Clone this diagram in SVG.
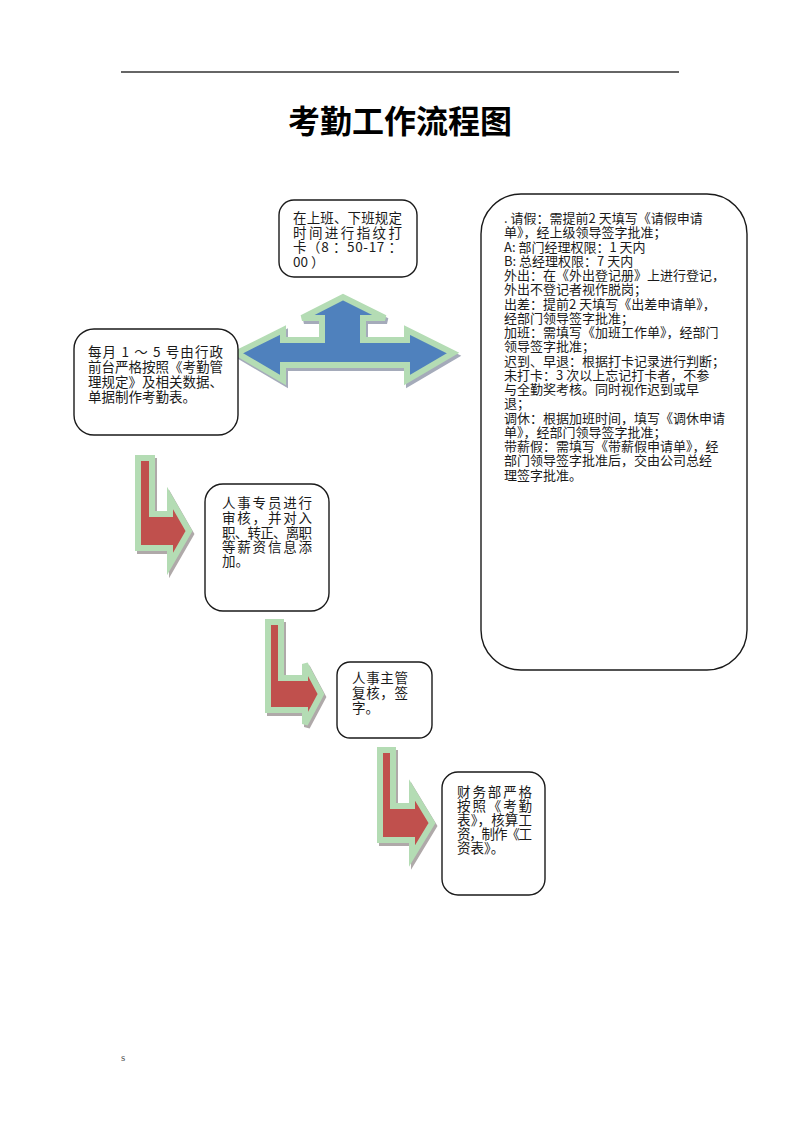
<svg xmlns="http://www.w3.org/2000/svg" width="800" height="1132" viewBox="0 0 800 1132">
<style>
  .box { fill: #ffffff; stroke: #1a1a1a; stroke-width: 1.4; }
  .t { font-family: "Noto Sans CJK SC", "Noto Sans", sans-serif; font-size: 13.5px; fill: #1a1a1a; }
  .tr { font-family: "Noto Sans CJK SC", "Noto Sans", sans-serif; font-size: 13px; fill: #1a1a1a; }
  .title { font-family: "Noto Sans CJK SC", sans-serif; font-size: 32px; font-weight: bold; fill: #000; }
  .shadow { fill: #9c9494; stroke: #9c9494; stroke-width: 6; stroke-linejoin: miter; opacity: 0.8; }
  .red { fill: #c0504d; stroke: #b4dcb4; stroke-width: 6; stroke-linejoin: miter; }
  .blue { fill: #4f81bd; stroke: #b4dcb4; stroke-width: 6; stroke-linejoin: miter; }
  .shadowb { fill: #8f97aa; stroke: #8f97aa; stroke-width: 6; stroke-linejoin: miter; opacity: 0.8; }
</style>
<rect width="800" height="1132" fill="#ffffff"/>
<line x1="121" y1="72" x2="679" y2="72" stroke="#333" stroke-width="1.5"/>
<text class="title" x="400" y="133" text-anchor="middle">考勤工作流程图</text>

<g id="connectors">
  <g id="arrow-blue">
    <polygon class="shadowb" transform="translate(2,3)" points="237,353 283,330 283,340 322,340 322,318 302,318 343,297 385,318 363,318 363,340 407,340 407,330 453,353 407,380 407,365 283,365 283,380"/>
    <polygon class="blue" points="237,353 283,330 283,340 322,340 322,318 302,318 343,297 385,318 363,318 363,340 407,340 407,330 453,353 407,380 407,365 283,365 283,380"/>
  </g>
  <g id="arrow-1">
    <polygon class="shadow" transform="translate(2,3)" points="138,458 152,458 152,514 170,514 170,498 189,531 170,564 170,548 138,548"/>
    <polygon class="red" points="138,458 152,458 152,514 170,514 170,498 189,531 170,564 170,548 138,548"/>
  </g>
  <g id="arrow-2">
    <polygon class="shadow" transform="translate(2,3)" points="268,622 281,622 281,678 305,678 305,664 321,694 305,724 305,710 268,710"/>
    <polygon class="red" points="268,622 281,622 281,678 305,678 305,664 321,694 305,724 305,710 268,710"/>
  </g>
  <g id="arrow-3">
    <polygon class="shadow" transform="translate(2,3)" points="380,750 393,750 393,806 412,806 412,790 432,823 412,856 412,840 380,840"/>
    <polygon class="red" points="380,750 393,750 393,806 412,806 412,790 432,823 412,856 412,840 380,840"/>
  </g>
</g>

<g id="node-clock">
  <rect class="box" x="279" y="200" width="138" height="77" rx="15"/>
  <text class="t" x="293" y="223" textLength="109" lengthAdjust="spacing">在上班、下班规定</text>
  <text class="t" x="293" y="237.5" textLength="109" lengthAdjust="spacing">时间进行指纹打</text>
  <text class="t" x="293" y="252" textLength="109" lengthAdjust="spacing">卡（8 ：50-17 ：</text>
  <text class="t" x="293" y="266.5">00 ）</text>
</g>

<g id="node-start">
  <rect class="box" x="74" y="329" width="164" height="106" rx="20"/>
  <text class="t" x="88" y="357" textLength="135" lengthAdjust="spacing">每月 1 ～ 5 号由行政</text>
  <text class="t" x="88" y="372" textLength="135" lengthAdjust="spacing">前台严格按照《考勤管</text>
  <text class="t" x="88" y="387" textLength="135" lengthAdjust="spacing">理规定》及相关数据、</text>
  <text class="t" x="88" y="402">单据制作考勤表。</text>
</g>

<g id="node-rules">
  <rect class="box" x="481" y="194" width="266" height="476" rx="40"/>
  <text class="tr" x="504" y="223">. 请假：需提前2 天填写《请假申请</text>
  <text class="tr" x="504" y="237.25">单》，经上级领导签字批准；</text>
  <text class="tr" x="504" y="251.5">A: 部门经理权限：1 天内</text>
  <text class="tr" x="504" y="265.75">B: 总经理权限：7 天内</text>
  <text class="tr" x="504" y="280">外出：在《外出登记册》上进行登记，</text>
  <text class="tr" x="504" y="294.25">外出不登记者视作脱岗；</text>
  <text class="tr" x="504" y="308.5">出差：提前2 天填写《出差申请单》，</text>
  <text class="tr" x="504" y="322.75">经部门领导签字批准；</text>
  <text class="tr" x="504" y="337">加班：需填写《加班工作单》，经部门</text>
  <text class="tr" x="504" y="351.25">领导签字批准；</text>
  <text class="tr" x="504" y="365.5">迟到、早退：根据打卡记录进行判断；</text>
  <text class="tr" x="504" y="379.75">未打卡：3 次以上忘记打卡者，不参</text>
  <text class="tr" x="504" y="394">与全勤奖考核。同时视作迟到或早</text>
  <text class="tr" x="504" y="408.25">退；</text>
  <text class="tr" x="504" y="422.5">调休：根据加班时间，填写《调休申请</text>
  <text class="tr" x="504" y="436.75">单》，经部门领导签字批准；</text>
  <text class="tr" x="504" y="451">带薪假：需填写《带薪假申请单》，经</text>
  <text class="tr" x="504" y="465.25">部门领导签字批准后，交由公司总经</text>
  <text class="tr" x="504" y="479.5">理签字批准。</text>
</g>

<g id="node-hr">
  <rect class="box" x="205" y="484" width="124" height="127" rx="18"/>
  <text class="t" x="222" y="508" textLength="90" lengthAdjust="spacing">人事专员进行</text>
  <text class="t" x="222" y="523" textLength="90" lengthAdjust="spacing">审核，并对入</text>
  <text class="t" x="222" y="538" textLength="90" lengthAdjust="spacing">职、转正、离职</text>
  <text class="t" x="222" y="552" textLength="90" lengthAdjust="spacing">等薪资信息添</text>
  <text class="t" x="222" y="566">加。</text>
</g>

<g id="node-manager">
  <rect class="box" x="337" y="662" width="95" height="76" rx="13"/>
  <text class="t" x="352" y="683" textLength="56" lengthAdjust="spacing">人事主管</text>
  <text class="t" x="352" y="698" textLength="56" lengthAdjust="spacing">复核，签</text>
  <text class="t" x="352" y="713">字。</text>
</g>

<g id="node-finance">
  <rect class="box" x="442" y="772" width="103" height="123" rx="16"/>
  <text class="t" x="457" y="797" textLength="75" lengthAdjust="spacing">财务部严格</text>
  <text class="t" x="457" y="811" textLength="75" lengthAdjust="spacing">按照《考勤</text>
  <text class="t" x="457" y="825" textLength="75" lengthAdjust="spacing">表》，核算工</text>
  <text class="t" x="457" y="839" textLength="75" lengthAdjust="spacing">资，制作《工</text>
  <text class="t" x="457" y="853">资表》。</text>
</g>

<text x="121" y="1061" font-family="Liberation Serif, serif" font-size="11" fill="#555">s</text>
</svg>
